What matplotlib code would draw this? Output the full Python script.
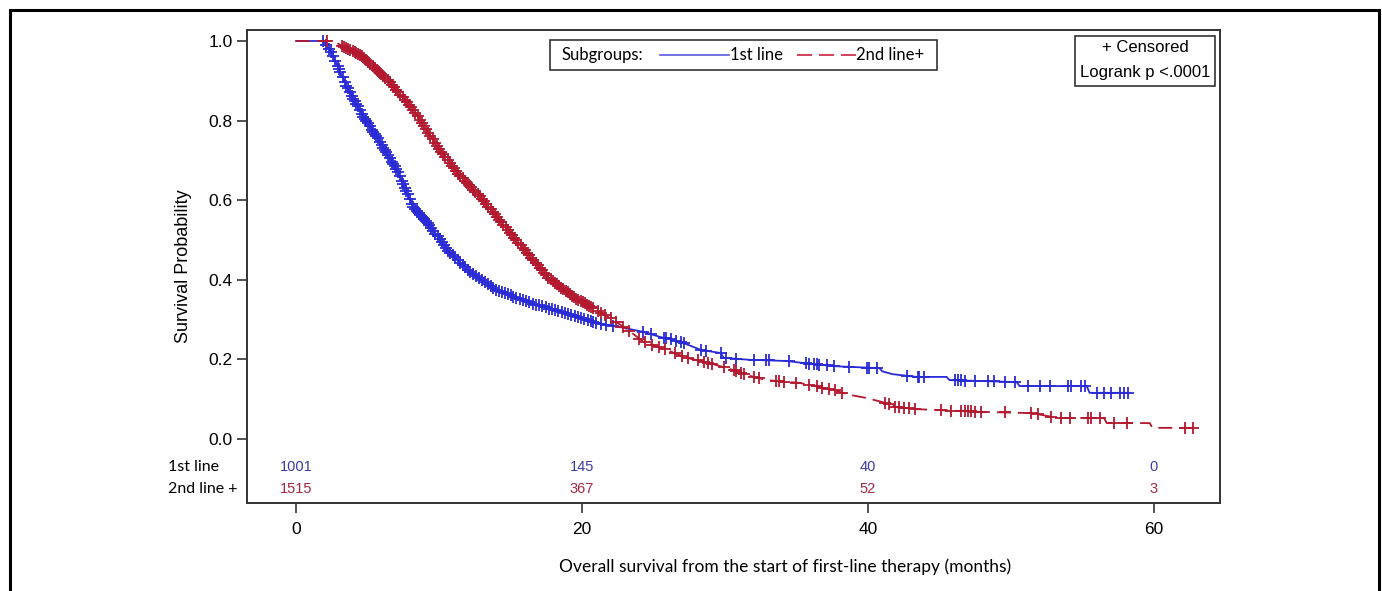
import matplotlib
matplotlib.use("Agg")
import matplotlib.pyplot as plt
from matplotlib.patches import Rectangle
from matplotlib.lines import Line2D
import numpy as np

# Kaplan-Meier curves (months, survival)
first_t = [0, 1.9, 2.5, 3.55, 4.7, 5.9, 7.05, 8.2, 9.2, 10.6, 12.0, 14.0, 16.4, 18.7, 21.0,
           22.7, 24.3, 25.5, 26.9, 28.3, 29.7, 29.9, 31.7, 34.3, 35.7, 37.6, 40.8, 41.0, 41.7,
           43.4, 45.5, 45.7, 50.4, 50.6, 55.3, 55.5, 58.2]
first_s = [1.0, 1.0, 0.97, 0.884, 0.81, 0.744, 0.676, 0.583, 0.543, 0.475, 0.425, 0.374, 0.342,
           0.317, 0.291, 0.281, 0.269, 0.256, 0.244, 0.224, 0.216, 0.204, 0.199, 0.196, 0.19,
           0.183, 0.178, 0.170, 0.163, 0.156, 0.156, 0.148, 0.143, 0.133, 0.133, 0.116, 0.116]

second_t = [0, 2.6, 3.1, 4.7, 6.4, 8.2, 9.9, 11.3, 12.9, 14.8, 16.4, 17.6, 19.4, 21.0, 22.2,
            23.4, 24.3, 25.9, 27.3, 28.9, 30.6, 31.5, 32.9, 35.2, 37.6, 38.7, 39.9, 41.3, 42.0,
            43.4, 48.0, 51.5, 52.5, 53.4, 56.5, 56.7, 59.7, 59.9, 63.2]
second_s = [1.0, 1.0, 0.99, 0.96, 0.902, 0.827, 0.734, 0.668, 0.608, 0.525, 0.457, 0.407, 0.357,
            0.324, 0.299, 0.269, 0.244, 0.224, 0.204, 0.191, 0.173, 0.161, 0.148, 0.141, 0.123,
            0.111, 0.103, 0.090, 0.080, 0.075, 0.068, 0.065, 0.058, 0.053, 0.053, 0.040, 0.040,
            0.028, 0.028]

# censoring times
first_cens = [1.9, 2.1, 2.3, 2.45, 2.6, 2.75, 2.9, 3.0, 3.1, 3.25, 3.4, 3.5, 3.6, 3.75, 3.9,
              4.0, 4.1, 4.2, 4.3, 4.45, 4.6, 4.7, 4.8, 4.9, 5.0, 5.15, 5.3, 5.4, 5.5, 5.6, 5.7,
              5.85, 6.0, 6.1, 6.2, 6.3, 6.4, 6.55, 6.7, 6.8, 6.9, 7.0, 7.1, 7.25, 7.4, 7.5, 7.6,
              7.7, 7.8, 7.95, 8.1, 8.2, 8.3, 8.45, 8.6, 8.7, 8.8, 8.95, 9.1, 9.2, 9.3, 9.45, 9.6,
              9.75, 9.9, 10.05, 10.2, 10.35, 10.5, 10.65, 10.8, 10.95, 11.1, 11.3, 11.5, 11.65,
              11.8, 12.0, 12.2, 12.4, 12.6, 12.8, 13.0, 13.2, 13.4, 13.6, 13.8, 14.0, 14.2, 14.4,
              14.6, 14.8, 15.0, 15.2, 15.4, 15.65, 15.9, 16.1, 16.3, 16.55, 16.8, 17.0, 17.2,
              17.45, 17.7, 17.9, 18.1, 18.35, 18.6, 18.8, 19.0, 19.25, 19.5, 19.7, 19.9, 20.15,
              20.4, 20.6, 20.8, 21.0, 21.3, 21.7, 22.2, 24.3, 24.8, 25.7, 25.9, 26.2, 26.6,
              26.9, 27.1, 28.3, 28.7, 29.7, 30.1, 30.8, 32.0, 32.9, 33.1, 34.5, 35.7, 35.9, 36.2,
              36.4, 36.6, 37.1, 37.6, 38.7, 39.9, 40.1, 40.6, 42.7, 43.5, 43.6, 43.9, 46.1, 46.3,
              46.5, 46.8, 47.5, 48.4, 48.8, 49.6, 50.3, 51.2, 52.0, 52.7, 54.0, 54.2, 54.9, 55.2,
              56.0, 56.5, 57.0, 57.6, 57.9, 58.2]
second_cens = [2.2, 3.2, 3.35, 3.5, 3.65, 3.8, 3.95, 4.1, 4.2, 4.3, 4.45, 4.6, 4.75, 4.9, 5.05,
               5.2, 5.35, 5.5, 5.65, 5.8, 5.95, 6.1, 6.25, 6.4, 6.55, 6.7, 6.85, 7.0, 7.15, 7.3,
               7.45, 7.6, 7.75, 7.9, 8.05, 8.2, 8.35, 8.5, 8.65, 8.8, 8.95, 9.1, 9.25, 9.4, 9.55,
               9.7, 9.85, 10.0, 10.15, 10.3, 10.45, 10.6, 10.75, 10.9, 11.05, 11.2, 11.35, 11.5,
               11.65, 11.8, 11.95, 12.1, 12.25, 12.4, 12.55, 12.7, 12.85, 13.0, 13.15, 13.3, 13.45,
               13.6, 13.75, 13.9, 14.05, 14.2, 14.35, 14.5, 14.65, 14.8, 14.95, 15.1, 15.25, 15.4,
               15.55, 15.7, 15.85, 16.0, 16.15, 16.3, 16.45, 16.6, 16.75, 16.9, 17.05, 17.2, 17.35,
               17.5, 17.65, 17.8, 17.95, 18.1, 18.25, 18.4, 18.55, 18.7, 18.85, 19.0, 19.15, 19.3,
               19.45, 19.6, 19.75, 19.9, 20.05, 20.2, 20.35, 20.5, 20.65, 20.8, 21.1, 21.3, 21.6,
               22.0, 22.4, 22.9, 23.3, 24.0, 24.4, 24.9, 25.4, 25.8, 26.5, 27.0, 27.4, 28.1, 28.5,
               28.8, 29.1, 29.9, 30.6, 30.8, 31.1, 31.3, 32.0, 32.4, 33.6, 33.8, 34.1, 35.0, 35.9,
               36.4, 36.8, 37.3, 37.7, 38.2, 41.2, 41.5, 41.9, 42.2, 42.5, 42.9, 43.3, 45.1, 45.8,
               46.5, 46.8, 47.0, 47.2, 47.5, 47.9, 49.6, 51.4, 51.9, 52.8, 53.5, 54.1, 55.4, 55.6,
               56.2, 57.2, 58.1, 62.2, 62.7]

risk_times = [0, 20, 40, 60]
risk_first = [1001, 145, 40, 0]
risk_second = [1515, 367, 52, 3]

blue = "#2b2bd6"
red = "#b3182f"
narrow = ["Liberation Sans Narrow", "Liberation Sans", "DejaVu Sans"]
humanist = ["Lato", "DejaVu Sans"]

W, H = 1382, 591
fig = plt.figure(figsize=(W / 100, H / 100), dpi=100)


def fx(x):
    return x / W


def fy(y):
    return 1 - y / H


ax = fig.add_axes([fx(247), fy(503), fx(1220) - fx(247), (503 - 30) / H])
ax.set_xlim(-3.43, 64.62)
ax.set_ylim(-0.1608, 1.0276)

ax.plot(first_t, first_s, color=blue, lw=1.3, zorder=3)
ax.plot(second_t, second_s, color=red, lw=1.3, dashes=(7.7, 3.9), zorder=4)

ax.plot(first_cens, np.interp(first_cens, first_t, first_s), ls="none", marker="+",
        ms=8, mew=1.3, color=blue, zorder=3)
ax.plot(second_cens, np.interp(second_cens, second_t, second_s), ls="none", marker="+",
        ms=8, mew=1.3, color=red, zorder=4)

ax.set_yticks([0, 0.2, 0.4, 0.6, 0.8, 1.0])
ax.set_yticklabels(["0.0", "0.2", "0.4", "0.6", "0.8", "1.0"], family=narrow, fontsize=12.5)
ax.set_xticks(risk_times)
ax.set_xticklabels([str(v) for v in risk_times], family=narrow, fontsize=12.5)
ax.tick_params(axis="both", direction="out", length=7, width=1.2, color="#333333")
ax.tick_params(axis="x", pad=7)
for sp in ax.spines.values():
    sp.set_linewidth(1.4)
    sp.set_color("#333333")

ax.set_ylabel("Survival Probability", family=narrow, fontsize=13, labelpad=12)
fig.text(fx(785), fy(567), "Overall survival from the start of first-line therapy (months)",
         ha="center", va="center", family=humanist, fontsize=12.5)

# number at risk
for t, a, b in zip(risk_times, risk_first, risk_second):
    ax.text(t, -0.0704, str(a), color="#3b3ba8", ha="center", va="center", family=narrow, fontsize=10.5)
    ax.text(t, -0.1256, str(b), color="#a32840", ha="center", va="center", family=narrow, fontsize=10.5)
fig.text(fx(168), fy(467), "1st line", ha="left", va="center", family=humanist, fontsize=11.5)
fig.text(fx(168), fy(489), "2nd line +", ha="left", va="center", family=humanist, fontsize=11.5)

# legend box
fig.patches.append(Rectangle((fx(550), fy(70)), fx(937) - fx(550), (70 - 40) / H,
                             transform=fig.transFigure, fill=False, ec="#333333", lw=1.2))
fig.text(fx(562), fy(55), "Subgroups:", ha="left", va="center", family=humanist, fontsize=12)
fig.lines.append(Line2D([fx(660), fx(729)], [fy(55), fy(55)], transform=fig.transFigure,
                        color="#5a5ae0", lw=1.2))
fig.text(fx(730), fy(55), "1st line", ha="left", va="center", family=humanist, fontsize=12)
fig.lines.append(Line2D([fx(797), fx(856)], [fy(55), fy(55)], transform=fig.transFigure,
                        color="#d0405a", lw=1.4, dashes=(7.7, 3.6)))
fig.text(fx(856), fy(55), "2nd line+", ha="left", va="center", family=humanist, fontsize=12)

# censored / logrank box
fig.patches.append(Rectangle((fx(1075), fy(86)), fx(1215) - fx(1075), (86 - 36) / H,
                             transform=fig.transFigure, fill=False, ec="#333333", lw=1.2))
fig.text(fx(1145), fy(48), "+ Censored", ha="center", va="center", family=narrow, fontsize=12)
fig.text(fx(1145), fy(72), "Logrank p <.0001", ha="center", va="center", family=narrow, fontsize=12)

# outer frame
fig.patches.append(Rectangle((fx(10), -0.05), fx(1379) - fx(10), fy(10) + 0.05,
                             transform=fig.transFigure, fill=False, ec="black", lw=2.2))

fig.savefig("out.png", dpi=100)
